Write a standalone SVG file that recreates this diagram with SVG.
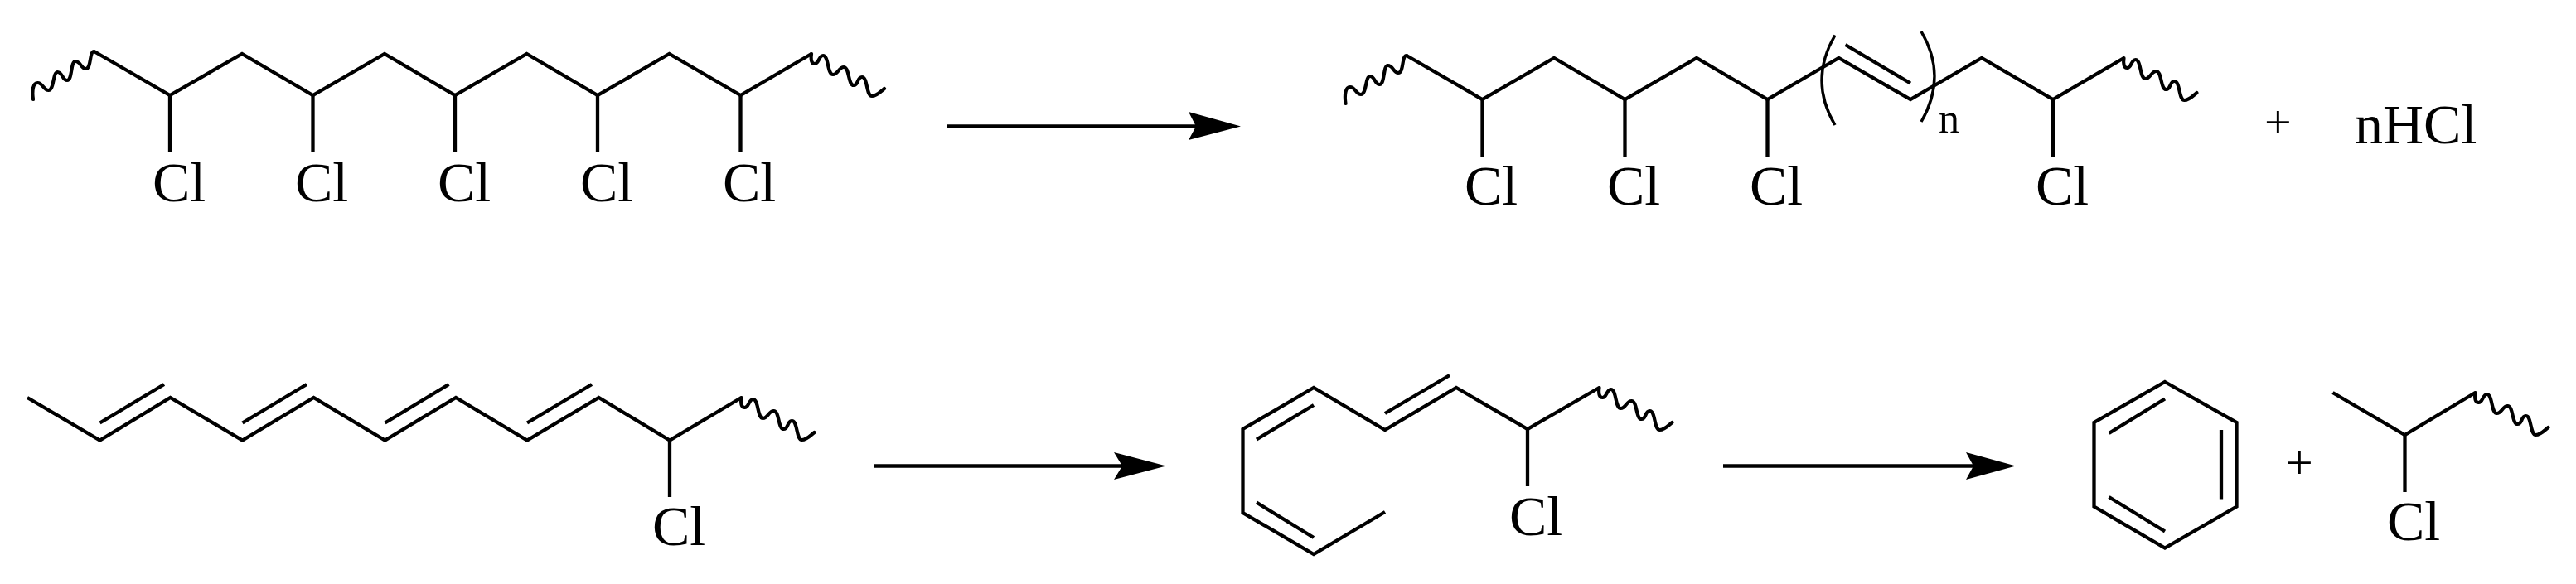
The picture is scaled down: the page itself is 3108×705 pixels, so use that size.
<svg xmlns="http://www.w3.org/2000/svg" xmlns:xlink="http://www.w3.org/1999/xlink" width="3108" height="705" viewBox="0 0 3108 705">
<style>
.b{fill:none;stroke:#000;stroke-width:4.3;stroke-linejoin:miter;stroke-linecap:butt}
.w{fill:none;stroke:#000;stroke-width:4.2;stroke-linecap:round;stroke-linejoin:round}
.p{fill:none;stroke:#000;stroke-width:3.4}
.a{stroke:#000;stroke-width:4.5;fill:none}
.h{fill:#000;stroke:none}
text{font-family:"Liberation Serif","Times New Roman",serif;fill:#000}
.c{font-size:68px}
.s{font-size:58px}
.n{font-size:50px}
</style>
<defs>
<path id="wl" class="w" d="M-73.5,58 C-75,48 -74,38 -68,38 C-62,38 -61,47 -55,47 C-48,47 -50,25 -44,25 C-38,25 -38.500,35 -32.500,35 C-26,35 -28.500,12 -22.500,12 C-16,12 -16,21 -10,21 C-3,21 -6,0 0,0"/>
<path id="wr" class="w" d="M0,0 C-1,7 0,12 4,12 C9,12 9,2 14,2 C21,2 19,25 26,25 C32,25 33,16 39,16 C46,16 44,38 51,38 C57,38 55,28 61,28 C68,28 66,51 73,51 C79,51 83,46 88,42"/>
</defs>
<rect width="3108" height="705" fill="#fff"/>
<g id="pvc-chain">
<use xlink:href="#wl" href="#wl" x="113.5" y="62"/>
<path class="b" d="M113.5,62 L205,115 L292,65 L377.5,115 L464,65 L549,115 L635.5,65 L721,115 L807.5,65 L893.5,115 L979,65"/>
<use xlink:href="#wr" href="#wr" x="979" y="65"/>
<path class="b" d="M205,115V184M377.5,115V184M549,115V184M721,115V184M893.5,115V184"/>
<text class="c" x="184" y="243">Cl</text>
<text class="c" x="356" y="243">Cl</text>
<text class="c" x="528" y="243">Cl</text>
<text class="c" x="700" y="243">Cl</text>
<text class="c" x="872" y="243">Cl</text>
</g>
<g id="polyene-n">
<use xlink:href="#wl" href="#wl" x="1697" y="67"/>
<path class="b" d="M1697,67 L1788.5,120 L1875,70 L1960.5,120 L2047,70 L2132.5,120 L2218.5,70 L2305,120 L2391,70 L2477,120 L2562.5,70"/>
<use xlink:href="#wr" href="#wr" x="2562.5" y="70"/>
<path class="b" d="M2226.5,54 L2305,100.5M1788.5,120V189M1960.5,120V189M2132.5,120V189M2477,120V189"/>
<path class="p" d="M2214,42.500 Q2182,97 2214,151"/>
<path class="p" d="M2318,38 Q2350,92 2318,147"/>
<text class="n" x="2339" y="160">n</text>
<text class="c" x="1767" y="247">Cl</text>
<text class="c" x="1939" y="247">Cl</text>
<text class="c" x="2111" y="247">Cl</text>
<text class="c" x="2456" y="247">Cl</text>
</g>
<g id="plus-hcl">
<text class="s" x="2732" y="167">+</text>
<text class="c" x="2841" y="173">nHCl</text>
</g>
<g id="tetraene">
<path class="b" d="M33,480 L120.500,531.500 L205.500,480 L292.500,531.500 L378.500,480 L464.500,531.500 L550,480 L636,531.500 L722.500,480 L808,531.500 L894.500,480"/>
<use xlink:href="#wr" href="#wr" x="894.500" y="480"/>
<path class="b" d="M120.500,510.500 L198,464M292.500,510.500 L370,464M464.500,510.500 L541.500,464M636,510.500 L714,464M808,531.500V600"/>
<text class="c" x="787" y="658">Cl</text>
</g>
<g id="triene">
<path class="b" d="M1671,618 L1585,669 L1499.500,619 V518 L1585,468 L1671,519 L1757,468 L1843,518 L1929.500,468"/>
<use xlink:href="#wr" href="#wr" x="1929.500" y="468"/>
<path class="b" d="M1671,499 L1749,453M1585,489 L1516,530.500M1516,606.500 L1585,649M1843,518V587"/>
<text class="c" x="1821" y="646">Cl</text>
</g>
<g id="benzene">
<path class="b" d="M2612,461 L2698.500,510 V611.500 L2612,661.500 L2526.500,611.500 V510 Z"/>
<path class="b" d="M2612,481.500 L2544.500,523M2544.500,600 L2612,641.500M2680,519V602.500"/>
</g>
<g id="plus-2"><text class="s" x="2758" y="578">+</text></g>
<g id="chloropropyl">
<path class="b" d="M2814.500,474 L2901.500,525 L2986.500,474"/>
<use xlink:href="#wr" href="#wr" x="2986.500" y="474"/>
<path class="b" d="M2901.500,525V594"/>
<text class="c" x="2880" y="652">Cl</text>
</g>
<g id="connectors">
<path class="a" d="M1143,152.500H1445"/>
<path class="h" d="M1497,152.500 L1434,135 L1443,152.500 L1434,169 Z"/>
<path class="a" d="M1055,562.500H1356"/>
<path class="h" d="M1407,562.500 L1344,546 L1354,562.500 L1344,579 Z"/>
<path class="a" d="M2079,562.500H2383"/>
<path class="h" d="M2432,562.500 L2372,546 L2381,562.500 L2372,579 Z"/>
</g>
</svg>
